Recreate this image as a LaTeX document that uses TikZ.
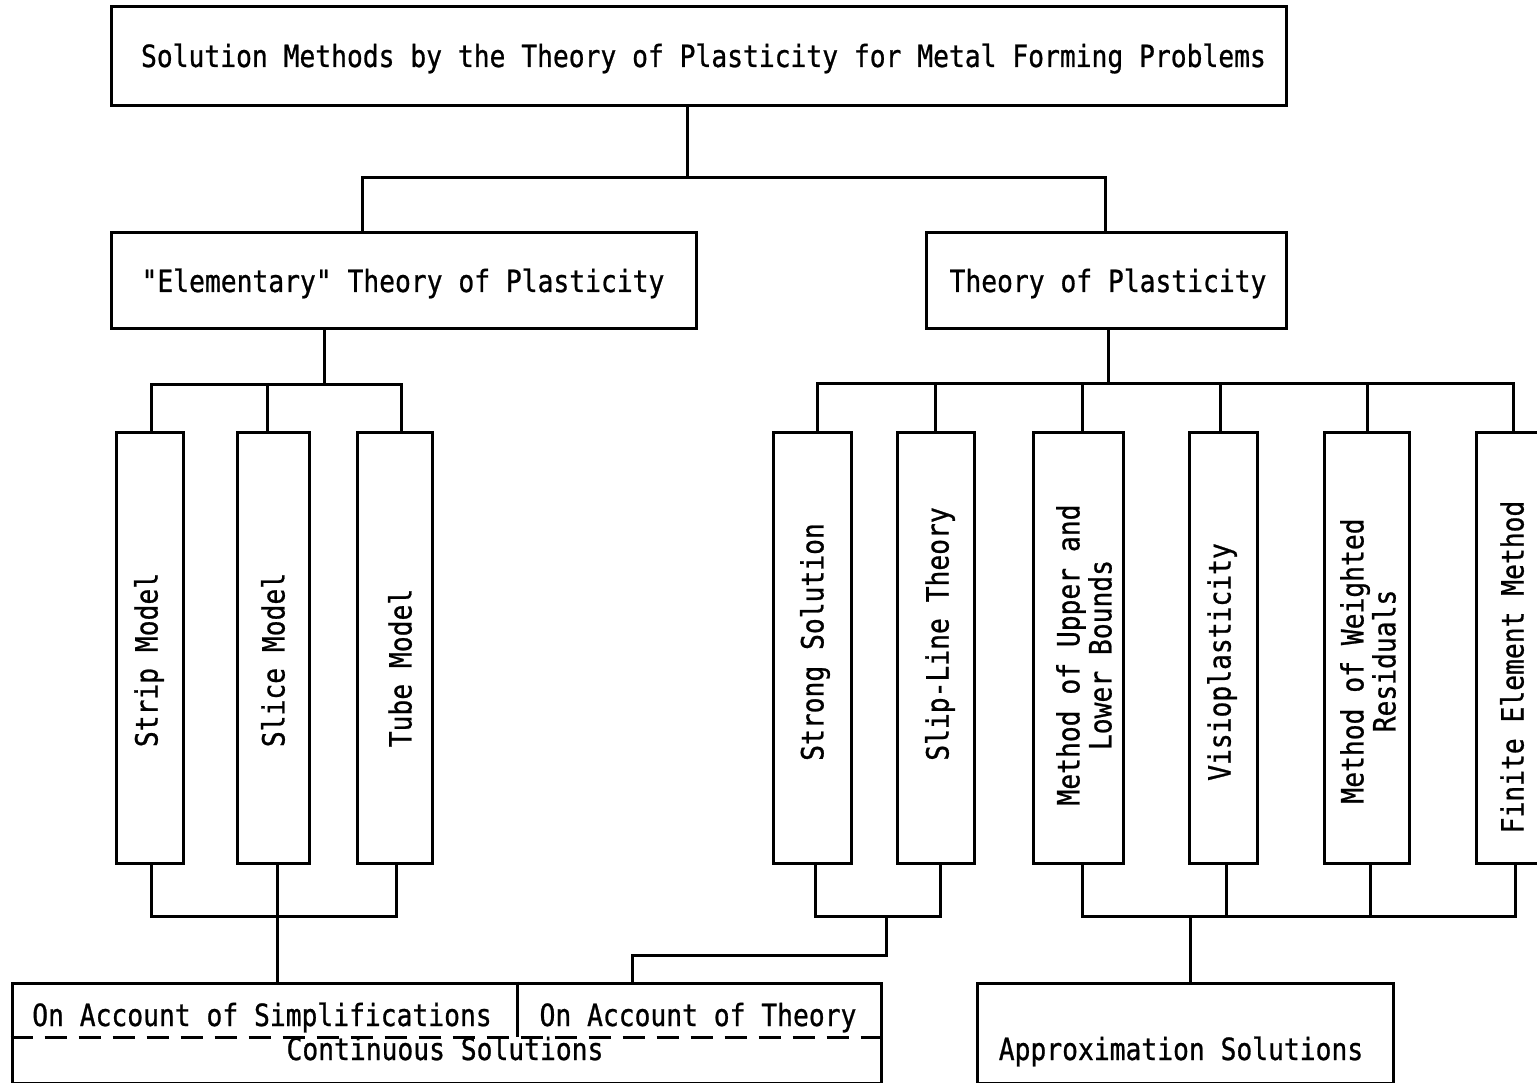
\documentclass[tikz,border=0pt]{standalone}
\usepackage{fontspec}
\newfontfamily\dmono[FakeStretch=0.86,FakeBold=0.8]{DejaVu Sans Mono}
\begin{document}
\begin{tikzpicture}[x=1pt,y=-1pt,
  box/.style={draw,line width=3pt,inner sep=0pt,rectangle},
  txt/.style={inner sep=0pt,font=\dmono\fontsize{30.6}{32}\selectfont},
  vtxt/.style={txt,rotate=90,align=center},
  conn/.style={line width=3pt,line cap=rect}]
\useasboundingbox (0,0) rectangle (1537,1083);
% boxes
\node[box,minimum width=1175,minimum height=99] (top) at (698.5,56.5) {};
\node[box,minimum width=585,minimum height=96] (elem) at (403.5,281) {};
\node[box,minimum width=360,minimum height=96] (theory) at (1106,281) {};
\node[box,minimum width=67,minimum height=431] (strip) at (149.5,647.5) {};
\node[box,minimum width=72,minimum height=431] (slice) at (273,647.5) {};
\node[box,minimum width=75,minimum height=431] (tube) at (394.5,647.5) {};
\node[box,minimum width=78,minimum height=431] (strong) at (812,647.5) {};
\node[box,minimum width=77,minimum height=431] (slip) at (935.5,647.5) {};
\node[box,minimum width=90,minimum height=431] (upper) at (1078,647.5) {};
\node[box,minimum width=68,minimum height=431] (visio) at (1223,647.5) {};
\node[box,minimum width=85,minimum height=431] (weighted) at (1366.5,647.5) {};
\node[box,minimum width=77,minimum height=431] (finite) at (1514.5,647.5) {};
\node[box,minimum width=869,minimum height=100] (cont) at (446.5,1033) {};
\node[box,minimum width=416,minimum height=100] (approx) at (1185,1033) {};
% texts
\node[txt,anchor=base] (ttop) at (703.5,67) {Solution Methods by the Theory of Plasticity for Metal Forming Problems};
\node[txt,anchor=base] (telem) at (403,292) {"Elementary" Theory of Plasticity};
\node[txt,anchor=base] (ttheory) at (1108,292) {Theory of Plasticity};
\node[vtxt] (tstrip) at (149,660) {Strip Model};
\node[vtxt] (tslice) at (273,660) {Slice Model};
\node[vtxt] (ttube) at (400,668) {Tube Model};
\node[vtxt] (tstrong) at (815,642) {Strong Solution};
\node[vtxt] (tslip) at (940,634) {Slip-Line Theory};
\node[vtxt] (tupper) at (1084,655) {Method of Upper and\\Lower Bounds};
\node[vtxt] (tvisio) at (1222,662) {Visioplasticity};
\node[vtxt] (tweighted) at (1368,661) {Method of Weighted\\Residuals};
\node[vtxt] (tfinite) at (1512,667) {Finite Element Method};
\node[txt,anchor=base] (tsimp) at (262,1026) {On Account of Simplifications};
\node[txt,anchor=base] (ttheo) at (698,1026) {On Account of Theory};
\node[txt,anchor=base] (tcont) at (445,1060) {Continuous Solutions};
\node[txt,anchor=base] (tapprox) at (1181,1060) {Approximation Solutions};
% inner structure of bottom-left box
\coordinate (dl) at (12,1037);
\coordinate (dr) at (881,1037);
\draw[line width=3pt,dash pattern=on 22pt off 12pt] (cont.west |- dl) -- (cont.east |- dr);
\draw[line width=3pt] (cont.north -| 517,0) -- (517,1037);
% connectors: top level
\coordinate (j1) at (687,178);
\draw[conn] (top.south -| j1) -- (j1);
\draw[conn] (elem.north -| 362,0) -- (362,178) -- (1105,178) -- (theory.north -| 1105,0);
% left group top
\coordinate (j2) at (324,384);
\draw[conn] (elem.south -| j2) -- (j2);
\draw[conn] (strip.north -| 151,0) -- (151,384) -- (401,384) -- (tube.north -| 401,0);
\draw[conn] (slice.north -| 267,0) -- (267,384);
% left group bottom
\draw[conn] (strip.south -| 151,0) -- (151,916) -- (396,916) -- (tube.south -| 396,0);
\draw[conn] (slice.south -| 277,0) -- (cont.north -| 277,0);
% right group top
\coordinate (j3) at (1108,383);
\draw[conn] (theory.south -| j3) -- (j3);
\draw[conn] (strong.north -| 817,0) -- (817,383) -- (1513,383) -- (finite.north -| 1513,0);
\draw[conn] (slip.north -| 935,0) -- (935,383);
\draw[conn] (upper.north -| 1082,0) -- (1082,383);
\draw[conn] (visio.north -| 1220,0) -- (1220,383);
\draw[conn] (weighted.north -| 1367,0) -- (1367,383);
% right group bottom: strong + slip
\draw[conn] (strong.south -| 815,0) -- (815,916) -- (940,916) -- (slip.south -| 940,0);
\draw[conn] (886,916) -- (886,955) -- (632,955) -- (cont.north -| 632,0);
% right group bottom: approximation methods
\draw[conn] (upper.south -| 1082,0) -- (1082,916) -- (1515,916) -- (finite.south -| 1515,0);
\draw[conn] (visio.south -| 1226,0) -- (1226,916);
\draw[conn] (weighted.south -| 1370,0) -- (1370,916);
\draw[conn] (1190,916) -- (approx.north -| 1190,0);
\end{tikzpicture}
\end{document}
